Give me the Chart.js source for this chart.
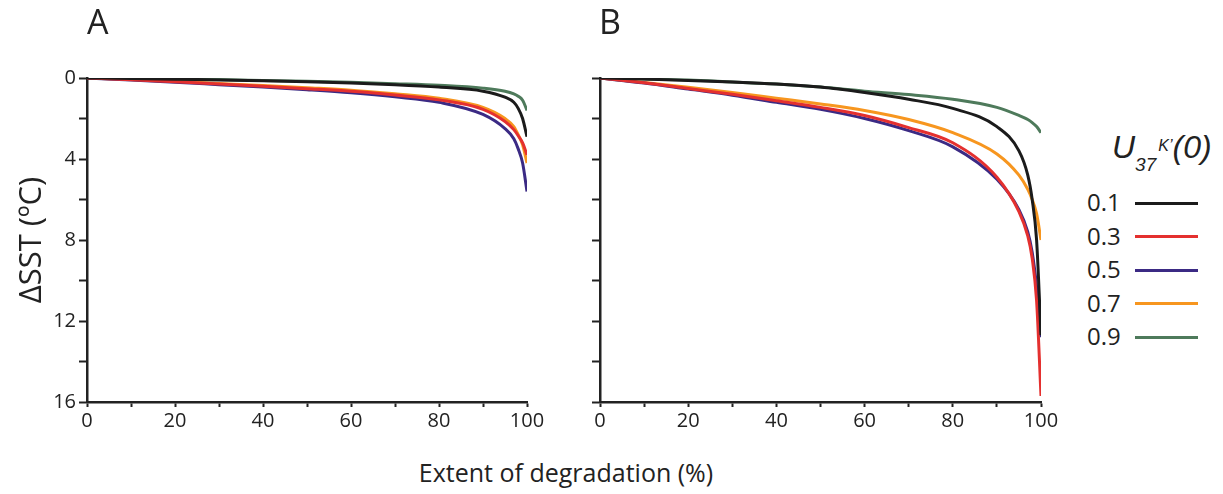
<!DOCTYPE html>
<html>
<head>
<meta charset="utf-8">
<script src="https://cdn.jsdelivr.net/npm/chart.js@4.4.0/dist/chart.umd.min.js"></script>
<style>
    body { margin: 0; background: #fff; width: 1223px; height: 494px; overflow: hidden; position: relative; font-family: "Open Sans", sans-serif; color: #222; }
    canvas { position: absolute; }
    .panel { position: absolute; font-size: 34px; line-height: 1; }
    #xTitle { position: absolute; left: 266px; width: 600px; top: 460px; text-align: center; font-size: 25px; line-height: 1; }
    #legTitle { position: absolute; left: 1112px; top: 131px; font-family: "Liberation Sans", Arial, sans-serif; font-style: italic; font-size: 32px; line-height: 1; white-space: nowrap; }
    #legTitle .sub { font-size: 19px; position: relative; top: 13px; }
    #legTitle .sup { font-size: 16px; position: relative; top: -7px; margin-left: 2px; }
    .legRow { position: absolute; left: 1087px; font-size: 24px; line-height: 1; }
    .legLine { position: absolute; left: 1135px; width: 63px; height: 3px; }
</style>
</head>
<body>
<div id="wrapA" style="position:absolute;left:0;top:0;width:547px;height:442px"><canvas id="chartA"></canvas></div>
<div id="wrapB" style="position:absolute;left:582px;top:0;width:479px;height:442px"><canvas id="chartB"></canvas></div>
<div class="panel" style="left:87px;top:4px">A</div>
<div class="panel" style="left:599px;top:4px">B</div>
<div id="xTitle">Extent of degradation (%)</div>
<div id="legTitle">U<span class="sub">37</span><span class="sup">K’</span>(0)</div>
<div id="legend"></div>
<script>
    // extent of degradation (%)
    let xs = [0, 10, 20, 30, 40, 50, 60, 70, 80, 90, 95, 97, 98, 99, 100];

    let labels = ['0.1', '0.3', '0.5', '0.7', '0.9'];
    let colors = ['#1b1b1b', '#e4302f', '#3b2a84', '#f7961f', '#4e7a5b'];

    // panel A, dSST per U37K'(0)
    let a01 = [0, 0.02, 0.06, 0.10, 0.14, 0.19, 0.25, 0.33, 0.45, 0.65, 0.95, 1.2, 1.5, 2.0, 2.9];
    let a03 = [0, 0.09, 0.19, 0.30, 0.41, 0.53, 0.66, 0.84, 1.08, 1.55, 2.15, 2.55, 2.85, 3.2, 3.8];
    let a05 = [0, 0.10, 0.21, 0.33, 0.45, 0.58, 0.73, 0.93, 1.2, 1.8, 2.5, 3.0, 3.5, 4.2, 5.6];
    let a07 = [0, 0.08, 0.17, 0.27, 0.37, 0.48, 0.60, 0.78, 1.0, 1.45, 2.0, 2.4, 2.8, 3.3, 4.2];
    let a09 = [0, 0.02, 0.05, 0.08, 0.12, 0.16, 0.21, 0.28, 0.36, 0.5, 0.65, 0.78, 0.9, 1.1, 1.6];

    // panel B
    let b01 = [0, 0.05, 0.12, 0.20, 0.30, 0.45, 0.72, 1.05, 1.5, 2.4, 3.6, 4.8, 6.0, 8.0, 12.7];
    let b03 = [0, 0.24, 0.52, 0.80, 1.12, 1.45, 1.85, 2.45, 3.2, 4.9, 6.6, 7.8, 8.9, 11.0, 15.7];
    let b05 = [0, 0.25, 0.55, 0.85, 1.20, 1.55, 2.0, 2.6, 3.4, 5.0, 6.5, 7.6, 8.6, 10.3, 12.8];
    let b07 = [0, 0.22, 0.46, 0.72, 1.0, 1.28, 1.6, 2.05, 2.7, 3.75, 4.8, 5.5, 6.0, 6.7, 8.0];
    let b09 = [0, 0.05, 0.10, 0.20, 0.30, 0.45, 0.65, 0.82, 1.05, 1.45, 1.85, 2.05, 2.2, 2.4, 2.7];

    let xTicks = [0, 20, 40, 60, 80, 100];
    let yTicks = [0, 4, 8, 12, 16];

    let ink = '#222';
    let tickFont = { family: 'Open Sans', size: 20 };

    function datasets(series) {
        return series.map((s, i) => ({
            label: labels[i],
            data: s.map((v, j) => ({ x: xs[j], y: v })),
            borderColor: colors[i],
            borderWidth: 3,
            pointRadius: 0,
            fill: false,
            cubicInterpolationMode: 'monotone'
        }));
    }

    function makeChart(id, series, showY) {
        return new Chart(document.getElementById(id), {
            type: 'line',
            data: { datasets: datasets(series) },
            options: {
                responsive: true,
                maintainAspectRatio: false,
                animation: false,
                layout: { padding: { top: 78, right: 20, left: showY ? 0 : 10, bottom: 0 } },
                plugins: { legend: { display: false }, tooltip: { enabled: false } },
                scales: {
                    x: {
                        type: 'linear', min: 0, max: 100,
                        ticks: {
                            stepSize: 10, autoSkip: false, maxRotation: 0, padding: 2,
                            color: ink, font: tickFont,
                            callback: v => xTicks.includes(v) ? v : ''
                        },
                        grid: { drawOnChartArea: false, drawTicks: true, tickLength: 5, tickColor: ink, tickWidth: 2 },
                        border: { color: ink, width: 2.5 },
                        afterFit: s => { s.height = 40; }
                    },
                    y: {
                        type: 'linear', min: 0, max: 16, reverse: true,
                        ticks: {
                            stepSize: 2, autoSkip: false, padding: 3,
                            color: ink, font: tickFont, display: showY,
                            callback: v => yTicks.includes(v) ? v : ''
                        },
                        grid: { drawOnChartArea: false, drawTicks: true, tickLength: 8, tickColor: ink, tickWidth: 2 },
                        border: { color: ink, width: 2.5 },
                        title: {
                            display: showY, text: 'ΔSST (ºC)', color: ink,
                            font: { family: 'Open Sans', size: 31 }, padding: { top: 14, bottom: 0 }
                        },
                        afterFit: s => { s.width = showY ? 87 : 8; }
                    }
                }
            }
        });
    }

    makeChart('chartA', [a01, a03, a05, a07, a09], true);
    makeChart('chartB', [b01, b03, b05, b07, b09], false);

    let legend = document.getElementById('legend');
    labels.forEach((l, i) => {
        let y = 203 + i * 33.6;
        legend.insertAdjacentHTML('beforeend',
            `<div class="legRow" style="top:${y - 13}px">${l}</div>` +
            `<div class="legLine" style="top:${y - 1.5}px;background:${colors[i]}"></div>`);
    });
</script>
</body>
</html>
